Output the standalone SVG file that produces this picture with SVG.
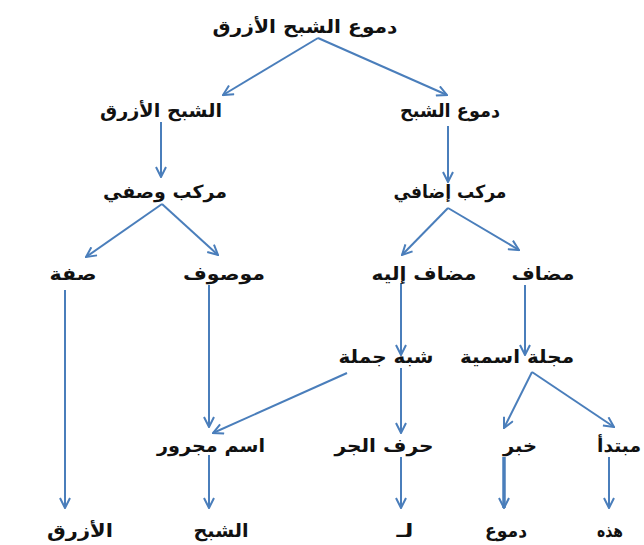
<svg xmlns="http://www.w3.org/2000/svg" width="644" height="545" viewBox="0 0 644 545">
<defs>
<style>
text{font-family:"DejaVu Sans","Liberation Sans",sans-serif;font-size:18px;fill:#111;text-anchor:middle;font-weight:bold}
.c line{stroke:#4A7EBB;stroke-width:2;fill:none;marker-end:url(#ah)}
</style>
<marker id="ah" viewBox="0 0 12 12" refX="11" refY="6" markerWidth="12" markerHeight="12" markerUnits="userSpaceOnUse" orient="auto">
<path d="M1,1 L11,6 L1,11" fill="none" stroke="#4A7EBB" stroke-width="2"/>
</marker>
</defs>
<rect width="644" height="545" fill="#fff"/>
<g class="c" id="connectors">
<line x1="318" y1="38" x2="223" y2="95"/>
<line x1="318" y1="38" x2="447" y2="95"/>
<line x1="161" y1="122" x2="161" y2="177"/>
<line x1="448" y1="126" x2="448" y2="182"/>
<line x1="162" y1="204" x2="86" y2="257"/>
<line x1="162" y1="204" x2="218" y2="255"/>
<line x1="448" y1="208" x2="402" y2="255"/>
<line x1="448" y1="208" x2="519" y2="250"/>
<line x1="65" y1="290" x2="65" y2="508"/>
<line x1="209" y1="285" x2="209" y2="427"/>
<line x1="401" y1="283" x2="401" y2="355"/>
<line x1="525" y1="285" x2="525" y2="355"/>
<line x1="347" y1="373" x2="213" y2="433"/>
<line x1="401" y1="368" x2="401" y2="433"/>
<line x1="532" y1="372" x2="504" y2="428"/>
<line x1="532" y1="372" x2="614" y2="427"/>
<line x1="209" y1="455" x2="209" y2="508"/>
<line x1="401" y1="457" x2="401" y2="508"/>
<line x1="504" y1="457" x2="504" y2="508" style="stroke-width:3.5"/>
<line x1="609" y1="457" x2="609" y2="508"/>
</g>
<g id="n-root"><text x="305" y="33" textLength="185" lengthAdjust="spacingAndGlyphs">دموع الشبح الأزرق</text></g>
<g id="n-shabah-azraq"><text x="161" y="117" textLength="122" lengthAdjust="spacingAndGlyphs">الشبح الأزرق</text></g>
<g id="n-dumu-shabah"><text x="450" y="117" textLength="100" lengthAdjust="spacingAndGlyphs">دموع الشبح</text></g>
<g id="n-murakkab-wasfi"><text x="165" y="198" textLength="124" lengthAdjust="spacingAndGlyphs">مركب وصفي</text></g>
<g id="n-murakkab-idafi"><text x="450" y="198" textLength="113" lengthAdjust="spacingAndGlyphs">مركب إضافي</text></g>
<g id="n-sifa"><text x="73" y="280" textLength="47" lengthAdjust="spacingAndGlyphs">صفة</text></g>
<g id="n-mawsuf"><text x="224" y="280" textLength="82" lengthAdjust="spacingAndGlyphs">موصوف</text></g>
<g id="n-mudaf-ilayh"><text x="424" y="280" textLength="105" lengthAdjust="spacingAndGlyphs">مضاف إليه</text></g>
<g id="n-mudaf"><text x="543" y="280" textLength="63" lengthAdjust="spacingAndGlyphs">مضاف</text></g>
<g id="n-shibh-jumla"><text x="386" y="363" textLength="95" lengthAdjust="spacingAndGlyphs">شبه جملة</text></g>
<g id="n-jumla-ismiya"><text x="517" y="363" textLength="114" lengthAdjust="spacingAndGlyphs">مجلة اسمية</text></g>
<g id="n-ism-majrur"><text x="211" y="452" textLength="108" lengthAdjust="spacingAndGlyphs">اسم مجرور</text></g>
<g id="n-harf-jar"><text x="384" y="452" textLength="99" lengthAdjust="spacingAndGlyphs">حرف الجر</text></g>
<g id="n-khabar"><text x="520" y="452" textLength="34" lengthAdjust="spacingAndGlyphs">خبر</text></g>
<g id="n-mubtada"><text x="619" y="452" textLength="44" lengthAdjust="spacingAndGlyphs">مبتدأ</text></g>
<g id="n-azraq"><text x="80" y="537" textLength="66" lengthAdjust="spacingAndGlyphs">الأزرق</text></g>
<g id="n-shabah"><text x="221" y="537" textLength="55" lengthAdjust="spacingAndGlyphs">الشبح</text></g>
<g id="n-li"><text x="405" y="537" textLength="17" lengthAdjust="spacingAndGlyphs">لـ</text></g>
<g id="n-dumu"><text x="506" y="537" textLength="42" lengthAdjust="spacingAndGlyphs">دموع</text></g>
<g id="n-hadhihi"><text x="610" y="537" textLength="26" lengthAdjust="spacingAndGlyphs">هذه</text></g>
</svg>
